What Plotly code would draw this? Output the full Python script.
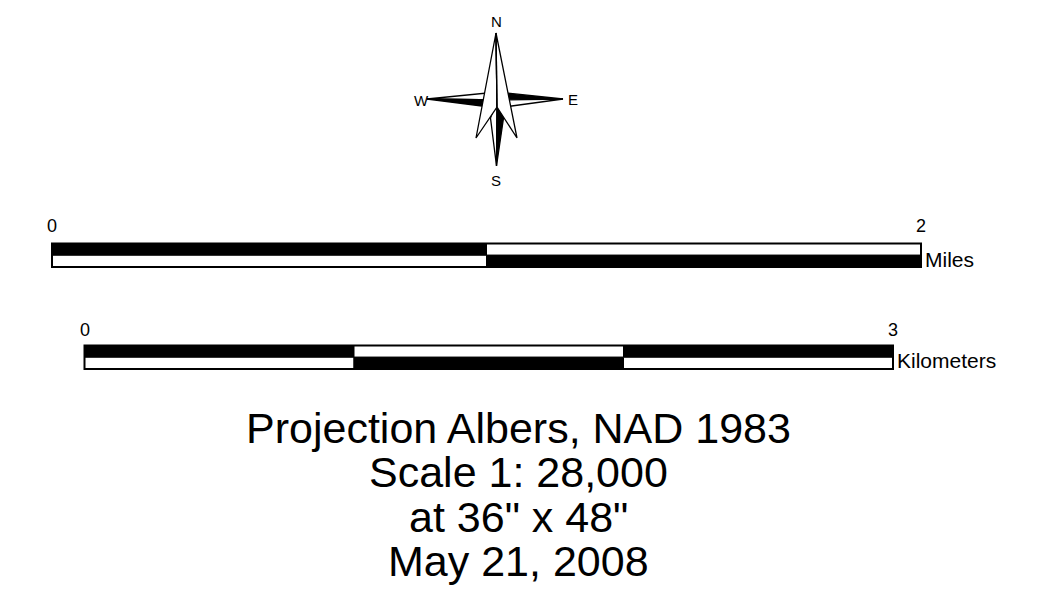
import plotly.graph_objects as go

# ---- data ----
miles_ticks = ["0", "2"]
miles_total = 2
miles_segments = 2
km_ticks = ["0", "3"]
km_total = 3
km_segments = 3
unit_labels = ["Miles", "Kilometers"]
compass_labels = ["N", "S", "W", "E"]
title_lines = ["Projection Albers, NAD 1983", "Scale 1: 28,000", 'at 36" x 48"', "May 21, 2008"]

W, H = 1039, 599
OFF = 8  # page body margin
FONT = "Liberation Sans, Arial, Helvetica, sans-serif"

fig = go.Figure()
shapes = []
annotations = []


def poly(points, fill, lw=1.3):
    path = "M " + " L ".join(f"{x},{y}" for x, y in points) + " Z"
    shapes.append(dict(type="path", path=path, xref="x", yref="y",
                       fillcolor=fill, line=dict(color="black", width=lw)))


def line(p, q, lw=1.3):
    shapes.append(dict(type="line", x0=p[0], y0=p[1], x1=q[0], y1=q[1],
                       xref="x", yref="y", line=dict(color="black", width=lw)))


def text(x, y, s, size, xanchor="center"):
    annotations.append(dict(x=x, y=y, xref="x", yref="y", text=s, showarrow=False,
                            xanchor=xanchor, yanchor="middle",
                            font=dict(family=FONT, size=size, color="black")))


# ---- compass ----
cx, cy = 497, 100
# west arm: top half white, bottom half black
poly([(427, 99), (497, 92), (cx, cy)], "white")
poly([(427, 99), (cx, cy), (497, 108)], "black")
# east arm: top half black, bottom half white
poly([(563, 99), (497, 92), (cx, cy)], "black")
poly([(563, 99), (cx, cy), (497, 108)], "white")
# south arm: left white, right black
poly([(497, 100), (490.5, 118), (496.5, 166)], "white")
poly([(497, 100), (503.5, 118), (496.5, 166)], "black")
# north arrow (two white halves)
poly([(496, 33), (476, 138), (497, 107)], "white")
poly([(496, 33), (517, 138), (497, 107)], "white")
line((496, 33), (497, 107))

text(496, 21, compass_labels[0], 15)
text(496, 180, compass_labels[1], 15)
text(421, 100, compass_labels[2], 15)
text(573, 99, compass_labels[3], 15)


# ---- scale bars ----
def scale_bar(x0, x1, top, bottom, nseg, ticks, unit, tick_y, unit_x, unit_y):
    mid = (top + bottom) / 2
    for i in range(nseg):
        a = x0 + (x1 - x0) * i / nseg
        b = x0 + (x1 - x0) * (i + 1) / nseg
        top_fill = "black" if i % 2 == 0 else "white"
        bot_fill = "white" if i % 2 == 0 else "black"
        shapes.append(dict(type="rect", x0=a, x1=b, y0=top, y1=mid, xref="x", yref="y",
                           fillcolor=top_fill, line=dict(color="black", width=1)))
        shapes.append(dict(type="rect", x0=a, x1=b, y0=mid, y1=bottom, xref="x", yref="y",
                           fillcolor=bot_fill, line=dict(color="black", width=1)))
    shapes.append(dict(type="rect", x0=x0, x1=x1, y0=top, y1=bottom, xref="x", yref="y",
                       fillcolor="rgba(0,0,0,0)", line=dict(color="black", width=2)))
    text(x0, tick_y, ticks[0], 18)
    text(x1, tick_y, ticks[1], 18)
    text(unit_x, unit_y, unit, 21, xanchor="left")


scale_bar(52, 921, 243.5, 267, miles_segments, miles_ticks, unit_labels[0], 226, 923, 259.5)
scale_bar(84.5, 893, 345.5, 369, km_segments, km_ticks, unit_labels[1], 329.5, 895, 360.5)

# ---- title text ----
for i, s in enumerate(title_lines):
    text(518, 428 + 44.3 * i, s, 43)

fig.update_layout(
    width=W, height=H,
    margin=dict(l=0, r=0, t=0, b=0),
    paper_bgcolor="white", plot_bgcolor="white",
    xaxis=dict(range=[OFF, W + OFF], visible=False, fixedrange=True),
    yaxis=dict(range=[H + OFF, OFF], visible=False, fixedrange=True),
    shapes=shapes, annotations=annotations,
    showlegend=False,
)
fig.write_html("out.html")
